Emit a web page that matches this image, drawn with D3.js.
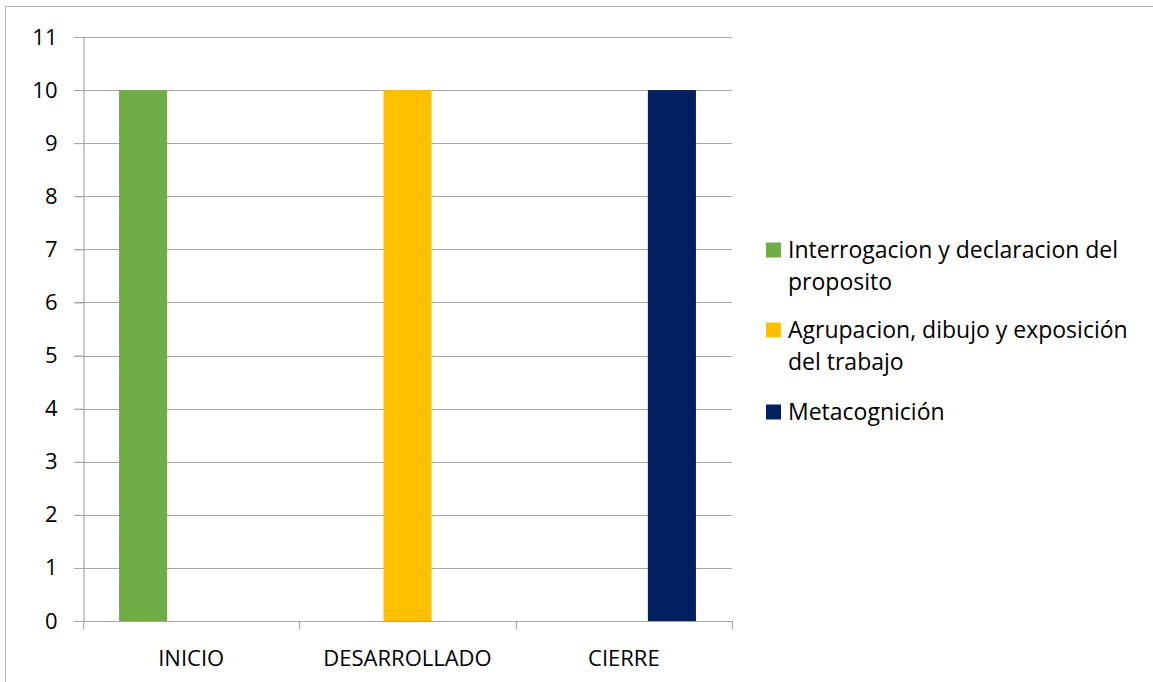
<!DOCTYPE html>
<html>
<head>
<meta charset="utf-8">
<script src="https://cdn.jsdelivr.net/npm/d3@7"></script>
<style>
  body { margin: 0; background: #fff; }
  text { font-family: "Open Sans", "Noto Sans", sans-serif; fill: #000; }
</style>
</head>
<body>
<svg id="chart"></svg>
<script>
const categories = ['INICIO', 'DESARROLLADO', 'CIERRE'];
const seriesNames = [
  'Interrogacion y declaracion del proposito',
  'Agrupacion, dibujo y exposición del trabajo',
  'Metacognición'
];
const seriesValues = [
  [10, 0, 0],
  [0, 10, 0],
  [0, 0, 10]
];
const seriesColors = ['#70AD47', '#FFC000', '#002060'];
const yTicks = [0, 1, 2, 3, 4, 5, 6, 7, 8, 9, 10, 11];

const W = 1153, H = 682;
const plot = {left: 83, right: 732, top: 37, bottom: 621};

const svg = d3.select('#chart')
  .attr('width', W)
  .attr('height', H);

svg.append('rect')
  .attr('x', 5.5).attr('y', 6.5)
  .attr('width', W).attr('height', H)
  .attr('fill', '#fff')
  .attr('stroke', '#b3b3b3');

const y = d3.scaleLinear()
  .domain([0, 11])
  .range([plot.bottom, plot.top]);

const x0 = d3.scaleBand()
  .domain(categories)
  .range([plot.left, plot.right])
  .padding(0);

const g = x0.bandwidth();
const x1 = d3.scaleBand()
  .domain(d3.range(seriesNames.length))
  .range([g / 6, g * 5 / 6])
  .padding(0);

// gridlines
svg.append('g')
  .selectAll('line')
  .data(yTicks)
  .join('line')
  .attr('x1', plot.left - 9)
  .attr('x2', plot.right)
  .attr('y1', d => Math.round(y(d)) + 0.5)
  .attr('y2', d => Math.round(y(d)) + 0.5)
  .attr('stroke', '#a6a6a6')
  .attr('stroke-width', 1.2);

// y axis
const yAxis = d3.axisLeft(y)
  .tickValues(yTicks)
  .tickSize(9)
  .tickSizeOuter(0)
  .tickPadding(17);

const yg = svg.append('g')
  .attr('transform', `translate(${plot.left + 0.5},0)`)
  .call(yAxis);
yg.select('.domain').attr('stroke', '#a6a6a6').attr('stroke-width', 1.2);
yg.selectAll('.tick line').attr('stroke', '#a6a6a6');
yg.selectAll('.tick text')
  .attr('font-size', 22)
  .attr('font-family', '"Open Sans", sans-serif')
  .attr('fill', '#000');

// bars
seriesNames.forEach((name, si) => {
  svg.append('g')
    .selectAll('rect')
    .data(categories.map((c, ci) => ({c: c, v: seriesValues[si][ci]})))
    .join('rect')
    .attr('x', d => x0(d.c) + x1(si))
    .attr('y', d => y(d.v))
    .attr('width', x1.bandwidth())
    .attr('height', d => y(0) - y(d.v))
    .attr('fill', seriesColors[si]);
});

// x axis boundary ticks
const bounds = categories.map(c => x0(c)).concat([plot.right]);
svg.append('g')
  .selectAll('line')
  .data(bounds)
  .join('line')
  .attr('x1', d => Math.round(d) + 0.5)
  .attr('x2', d => Math.round(d) + 0.5)
  .attr('y1', plot.bottom)
  .attr('y2', plot.bottom + 8)
  .attr('stroke', '#a6a6a6')
  .attr('stroke-width', 1.2);

const xAxis = d3.axisBottom(x0).tickSize(0).tickPadding(0);
const xg = svg.append('g')
  .attr('transform', `translate(0,${plot.bottom})`)
  .call(xAxis);
xg.select('.domain').remove();
xg.selectAll('.tick text')
  .attr('y', 37)
  .attr('dy', '0.35em')
  .attr('font-size', 22)
  .attr('font-family', '"Open Sans", sans-serif')
  .attr('fill', '#000');

// legend
const legendX = 766, textX = 788, maxW = 350, lineH = 32;
const itemTops = [250, 330, 412];

function wrapLines(textSel, str) {
  const words = str.split(' ');
  const lines = [];
  let cur = '';
  const probe = textSel.append('tspan');
  words.forEach(w => {
    const test = cur ? cur + ' ' + w : w;
    probe.text(test);
    if (probe.node().getComputedTextLength() > maxW && cur) {
      lines.push(cur);
      cur = w;
    } else {
      cur = test;
    }
  });
  lines.push(cur);
  probe.remove();
  return lines;
}

seriesNames.forEach((name, i) => {
  const cy = itemTops[i];
  svg.append('rect')
    .attr('x', legendX)
    .attr('y', cy - 7.5)
    .attr('width', 15)
    .attr('height', 15)
    .attr('fill', seriesColors[i]);

  const t = svg.append('text')
    .attr('x', textX)
    .attr('y', cy)
    .attr('font-size', 23);
  const lines = wrapLines(t, name);
  lines.forEach((ln, k) => {
    t.append('tspan')
      .attr('x', textX)
      .attr('y', cy + k * lineH)
      .attr('dy', '0.35em')
      .text(ln);
  });
});
</script>
</body>
</html>
